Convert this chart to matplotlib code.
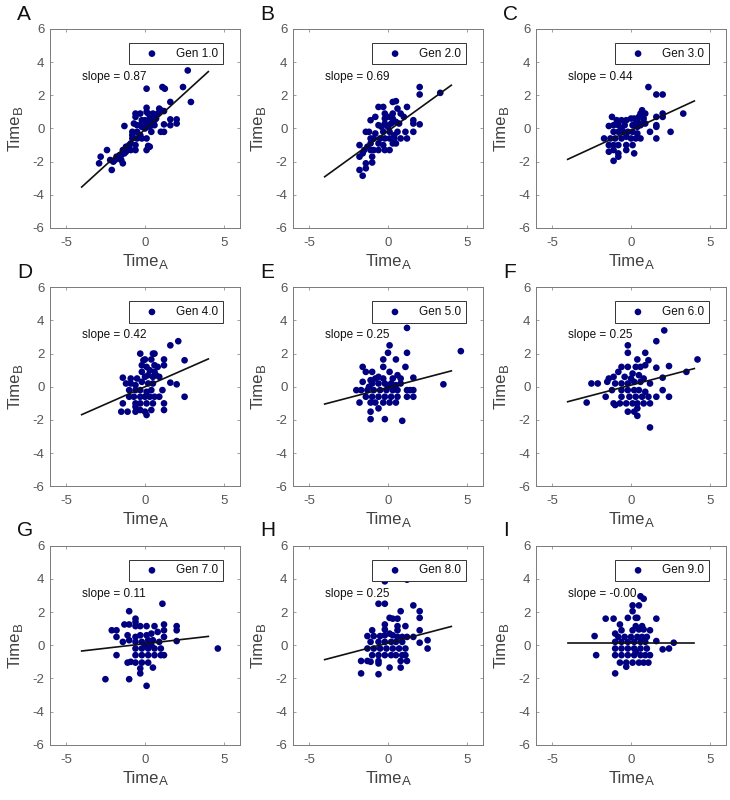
import matplotlib
matplotlib.use("Agg")
import matplotlib.pyplot as plt
import numpy as np

plt.rcParams['font.family'] = ['Liberation Sans', 'DejaVu Sans']

panel_letters = ["A", "B", "C", "D", "E", "F", "G", "H", "I"]
gen_labels = ["Gen 1.0", "Gen 2.0", "Gen 3.0", "Gen 4.0", "Gen 5.0",
              "Gen 6.0", "Gen 7.0", "Gen 8.0", "Gen 9.0"]
slope_labels = ["0.87", "0.69", "0.44", "0.42", "0.25", "0.25", "0.11", "0.25", "-0.00"]
slopes = [0.87, 0.69, 0.44, 0.42, 0.25, 0.25, 0.11, 0.25, 0.0]
intercepts = [-0.05, -0.15, -0.1, 0.0, -0.04, 0.1, 0.09, 0.13, 0.12]

pts_A = [(2.7, 3.5), (2.4, 2.5), (2.9, 1.6), (0.1, 2.4), (1.1, 2.5), (1.25, 2.4), (1.6, 1.6),
         (2.0, 0.55), (2.0, 0.3), (1.6, 0.55), (1.6, 0.2), (1.2, 0.25), (1.2, -0.2), (1.0, -0.2),
         (1.0, 1.1), (0.9, 1.2), (0.8, 0.9), (1.2, 1.05), (0.1, 1.25), (0.1, 1.0), (0.2, 0.9),
         (0.5, 0.9), (0.6, 0.8), (0.3, 0.6), (0.0, 0.5), (-0.2, 0.5), (-0.2, 0.3), (0.1, 0.3),
         (0.4, 0.4), (0.7, 0.6), (0.6, 0.2), (0.3, 0.1), (0.0, 0.0), (-0.2, 0.1), (0.4, -0.2),
         (-0.6, 0.9), (-0.6, 0.7), (-0.3, 0.9), (-0.7, 0.3), (-0.5, 0.2), (-0.8, -0.2), (-0.5, -0.2),
         (-0.3, -0.4), (-0.2, -0.6), (0.1, -0.6), (-0.8, -0.6), (-0.5, -0.6), (-0.9, -0.9),
         (-0.6, -1.0), (-0.6, -1.3), (-0.9, -1.3), (0.1, -1.3), (0.2, -1.05), (0.3, -1.1),
         (-1.3, 0.15), (-1.0, -1.0), (-1.2, -1.1), (-1.2, -1.4), (-1.4, -1.3), (-1.5, -1.6),
         (-1.5, -1.9), (-1.4, -2.1), (-1.6, -1.6), (-1.7, -1.8), (-1.9, -1.9), (-2.0, -2.0),
         (-2.1, -2.5), (-2.2, -1.9), (-2.4, -1.3), (-2.8, -1.7), (-2.9, -2.1), (-1.8, -1.7),
         (-1.3, -1.5), (-0.8, -0.4), (0.6, 0.5)]
pts_B = [(3.3, 2.15), (2.0, 2.5), (2.0, 2.05), (2.0, 0.25), (0.3, 1.6), (0.5, 1.65), (-0.6, 1.3),
         (-0.3, 1.3), (1.2, 1.3), (-1.1, 0.5), (0.6, 1.2), (0.8, 0.9), (1.6, 0.5), (1.6, 0.3),
         (1.6, -0.2), (1.2, -0.6), (1.1, -0.2), (0.8, -0.6), (1.0, 0.7), (0.1, 0.7), (0.3, 0.6),
         (0.5, 0.4), (0.2, 0.3), (0.0, 0.1), (-0.2, 0.6), (-0.2, 0.3), (-0.4, 0.1), (-0.6, 0.2),
         (-0.3, -0.2), (0.1, -0.2), (0.4, -0.4), (0.6, -0.2), (-0.8, -0.3), (-0.5, -0.6),
         (-0.2, -0.6), (0.1, -0.6), (0.3, -0.9), (0.5, -0.9), (-0.6, -0.9), (-0.3, -1.0),
         (0.1, -1.3), (-0.2, -1.3), (-0.6, -1.3), (-1.2, -0.2), (-1.4, -0.2), (-1.1, -0.6),
         (-0.9, -0.6), (-1.1, -0.9), (-1.3, -1.1), (-1.5, -1.3), (-1.1, -1.3), (-0.9, -1.3),
         (-1.6, -1.5), (-1.8, -1.0), (-1.8, -1.7), (-1.0, -1.7), (-1.0, -2.05), (-1.4, -2.1),
         (-1.4, -2.4), (-1.8, -2.5), (-1.6, -2.85), (0.4, -0.6), (0.7, 0.3), (0.3, 0.9),
         (-0.8, 0.7), (-0.2, 0.9)]
pts_C = [(1.1, 2.5), (1.6, 2.05), (2.0, 2.05), (3.3, 0.9), (2.0, 0.9), (2.0, 0.7), (2.5, -0.2),
         (1.6, 0.7), (1.6, 0.2), (1.6, 0.1), (1.6, -0.6), (1.2, -0.2), (0.9, 0.9), (0.7, 1.1),
         (0.6, 0.9), (0.5, 0.7), (0.4, 0.5), (0.8, 0.6), (0.2, 0.6), (0.0, 0.6), (-0.3, 0.5),
         (-0.6, 0.5), (-0.9, 0.5), (-1.2, 0.7), (-1.4, 0.15), (-1.1, 0.2), (-0.8, 0.2), (-0.4, 0.2),
         (0.1, 0.2), (0.4, 0.1), (0.7, 0.3), (-1.1, -0.2), (-0.8, -0.2), (-0.5, -0.2), (-0.2, -0.2),
         (0.1, -0.2), (0.4, -0.3), (-1.7, -0.6), (-1.3, -0.6), (-1.0, -0.6), (-0.6, -0.6),
         (-0.3, -0.5), (0.0, -0.6), (0.3, -0.6), (0.6, -0.6), (-1.4, -1.0), (-1.1, -1.0),
         (-0.8, -1.0), (-0.3, -1.0), (0.1, -1.0), (-1.4, -1.4), (-1.1, -1.3), (-0.3, -1.3),
         (-0.8, -1.5), (-0.8, -1.7), (0.2, -1.5), (-1.1, -1.95), (0.3, 0.3), (0.6, 0.2),
         (-0.6, 0.0), (0.9, 0.3)]
pts_D = [(2.1, 2.75), (1.6, 2.5), (2.5, 1.6), (2.5, -0.6), (2.0, 0.15), (1.6, 0.25), (1.2, 1.65),
         (1.2, 1.3), (1.1, -0.2), (1.2, -1.0), (1.2, -1.4), (0.9, -0.6), (0.6, 2.0), (0.5, 2.0),
         (-0.3, 2.0), (0.0, 1.65), (0.4, 1.65), (0.6, 1.3), (0.8, 1.2), (0.9, 0.6), (0.7, 0.7),
         (0.5, 0.6), (0.3, 1.0), (0.1, 1.2), (-0.2, 1.3), (-0.2, 0.9), (0.0, 0.6), (-0.5, 0.5),
         (-0.9, 0.5), (-1.4, 0.55), (-1.2, 0.2), (-0.9, 0.2), (-0.6, 0.1), (-0.2, 0.3), (0.2, 0.2),
         (0.5, 0.2), (-1.0, -0.2), (-0.6, -0.2), (-0.3, -0.2), (0.1, -0.3), (0.4, -0.2),
         (-1.0, -0.6), (-0.7, -0.6), (-0.3, -0.6), (0.0, -0.6), (0.3, -0.6), (0.6, -0.6),
         (-1.4, -1.0), (-0.6, -1.0), (-0.3, -1.0), (0.1, -1.0), (0.5, -1.0), (-1.5, -1.5),
         (-1.1, -1.5), (-0.6, -1.5), (-0.3, -1.4), (0.0, -1.5), (0.1, -1.7), (0.4, -1.4),
         (-0.6, -1.2), (0.2, 0.7), (-0.1, 1.6), (0.6, 0.9)]
pts_E = [(4.6, 2.15), (3.5, 0.15), (1.2, 3.55), (1.2, 2.05), (0.1, 2.5), (0.0, 2.05), (-0.3, 1.65),
         (0.5, 1.65), (1.1, 1.2), (-1.6, 1.2), (-1.4, 0.9), (-1.0, 0.9), (-0.3, 1.2), (0.1, 0.9),
         (0.6, 0.7), (0.8, 0.5), (1.6, 0.55), (-0.6, 0.6), (-0.8, 0.5), (-1.1, 0.4), (-1.6, 0.3),
         (-0.3, 0.5), (0.3, 0.5), (-1.0, 0.2), (-0.6, 0.2), (-0.2, 0.2), (0.2, 0.2), (0.5, 0.1),
         (-2.0, -0.2), (-1.7, -0.2), (-1.3, -0.2), (-0.9, -0.2), (-0.5, -0.2), (-0.1, -0.2),
         (0.3, -0.2), (0.6, -0.2), (1.2, -0.2), (1.6, -0.2), (-1.8, -0.95), (-1.4, -0.6),
         (-1.0, -0.6), (-0.6, -0.6), (-0.2, -0.6), (0.2, -0.6), (0.6, -0.6), (1.2, -0.6),
         (1.6, -0.6), (-1.1, -0.95), (-0.8, -0.95), (-0.3, -0.95), (0.1, -0.95), (0.5, -0.95),
         (-0.6, -1.3), (-1.1, -1.5), (-1.1, -1.95), (-0.2, -1.95), (0.9, -2.05), (1.4, -0.2),
         (0.0, 0.0), (-1.2, 0.0), (0.8, 0.2)]
pts_F = [(4.2, 1.65), (3.5, 0.9), (2.1, 3.4), (1.6, 2.75), (2.4, 1.25), (2.0, 0.55), (2.0, -0.2),
         (2.4, -0.6), (1.6, 1.15), (1.6, -0.6), (1.1, 1.6), (0.9, 2.05), (0.4, 1.65), (-0.2, 2.5),
         (-0.2, 2.05), (-0.6, 1.2), (-0.2, 1.2), (0.3, 1.2), (0.6, 1.2), (0.9, 1.3), (-1.1, 0.6),
         (-1.4, 0.5), (-0.8, 0.9), (-0.4, 0.6), (0.1, 0.8), (0.5, 0.7), (0.8, 0.5), (1.2, 0.2),
         (-1.5, 0.3), (-1.0, 0.2), (-0.6, 0.2), (-0.2, 0.2), (0.2, 0.3), (0.6, 0.3), (-2.5, 0.2),
         (-2.1, 0.2), (-1.2, -0.2), (-0.6, -0.2), (-0.2, -0.2), (0.2, -0.2), (0.5, -0.2),
         (0.9, -0.3), (-1.6, -0.6), (-0.6, -0.6), (-0.1, -0.6), (0.3, -0.6), (0.7, -0.6),
         (1.1, -0.6), (-1.1, -1.0), (-0.7, -1.0), (-0.3, -1.0), (0.1, -1.0), (0.4, -1.0),
         (0.8, -1.0), (1.2, -1.0), (-1.0, -1.1), (-0.2, -1.5), (0.2, -1.5), (0.4, -1.3),
         (0.4, -1.75), (1.2, -2.45), (-2.8, -0.95), (0.0, 0.5)]
pts_G = [(4.6, -0.2), (1.1, 2.5), (-1.0, 2.05), (-0.6, 1.6), (-0.6, 1.4), (2.0, 1.15), (2.0, 0.9),
         (2.0, 0.25), (1.2, 1.25), (1.2, 0.9), (1.2, 0.5), (-2.1, 0.9), (-1.8, 0.9), (-1.8, 0.5),
         (-1.3, 1.25), (-1.0, 1.25), (-0.6, 1.15), (-0.3, 1.15), (0.1, 1.15), (0.6, 1.15),
         (-1.4, 0.2), (-1.0, 0.3), (-1.1, 0.6), (-0.6, 0.5), (-0.3, 0.6), (0.1, 0.6), (0.4, 0.7),
         (0.8, 0.8), (-0.6, 0.2), (-0.2, 0.2), (0.2, 0.3), (0.5, 0.3), (0.9, 0.2), (-0.6, -0.2),
         (-0.2, -0.2), (0.2, -0.2), (0.6, -0.2), (1.0, -0.2), (-1.8, -0.6), (-0.6, -0.6),
         (-0.2, -0.6), (0.2, -0.6), (0.6, -0.6), (1.0, -0.6), (1.2, -0.6), (-1.1, -1.05),
         (-0.6, -1.05), (-0.2, -1.05), (0.2, -1.05), (-0.3, -1.4), (-0.3, -1.7), (0.5, -1.35),
         (-2.5, -2.05), (-1.0, -2.05), (0.1, -2.45), (0.0, 0.0), (0.4, 0.0), (-0.9, -1.0)]
pts_H = [(-0.2, 3.85), (1.2, 3.95), (-0.6, 2.5), (-0.2, 2.5), (1.6, 2.4), (0.8, 2.05), (2.0, 2.05),
         (2.0, 1.65), (0.1, 1.65), (0.3, 1.6), (0.6, 1.6), (-0.2, 1.25), (0.6, 1.15), (1.1, 1.15),
         (-0.2, 0.95), (-1.0, 0.9), (0.6, 0.9), (2.0, 0.9), (-1.3, 0.55), (-0.9, 0.55), (-0.5, 0.55),
         (-0.2, 0.6), (0.1, 0.7), (0.3, 0.6), (0.6, 0.5), (0.9, 0.5), (1.2, 0.5), (1.6, 0.5),
         (2.5, 0.3), (2.0, 0.15), (2.5, -0.2), (-1.1, 0.2), (-0.6, 0.2), (-0.2, 0.2), (0.2, 0.2),
         (0.5, 0.2), (0.9, 0.2), (-1.3, -0.2), (-0.9, -0.2), (-0.5, -0.2), (-0.1, -0.2), (0.3, -0.2),
         (0.7, -0.2), (1.1, -0.2), (-1.0, -0.6), (-0.6, -0.6), (-0.2, -0.6), (0.2, -0.6), (0.5, -0.6),
         (0.9, -0.6), (1.1, -0.6), (-1.7, -0.95), (-1.3, -0.95), (-1.1, -1.0), (-0.6, -0.95),
         (-0.6, -1.1), (0.8, -0.95), (1.2, -0.95), (0.1, -1.35), (0.8, -1.35), (-1.7, -1.7),
         (-0.6, -1.75)]
pts_I = [(0.6, 2.95), (0.8, 2.8), (0.1, 2.4), (0.5, 2.4), (0.1, 2.05), (-0.2, 1.65), (0.3, 1.65),
         (0.4, 1.65), (-1.6, 1.6), (-1.1, 1.6), (1.6, 1.6), (-0.7, 1.25), (0.3, 1.15), (0.7, 1.15),
         (0.1, 0.9), (0.5, 0.95), (0.8, 0.95), (-0.6, 0.9), (1.2, 0.9), (-2.3, 0.55), (-1.0, 0.7),
         (-0.8, 0.5), (-0.4, 0.5), (0.0, 0.5), (0.4, 0.5), (0.7, 0.5), (1.0, 0.5), (-1.0, 0.2),
         (-0.6, 0.2), (-0.2, 0.2), (0.2, 0.2), (0.6, 0.2), (0.9, 0.2), (1.6, 0.25), (2.7, 0.15),
         (-1.0, -0.2), (-0.6, -0.2), (-0.2, -0.2), (0.2, -0.2), (0.6, -0.2), (1.0, -0.2),
         (2.0, -0.25), (2.4, -0.2), (-2.2, -0.6), (-1.0, -0.6), (-0.6, -0.6), (-0.2, -0.6),
         (0.2, -0.6), (0.6, -0.6), (0.9, -0.6), (1.2, -0.6), (-0.7, -1.05), (-0.3, -1.05),
         (0.1, -1.05), (0.5, -1.05), (0.8, -1.05), (1.1, -1.05), (-0.3, -1.3), (-1.0, -1.7),
         (0.3, -0.4)]

all_pts = [pts_A, pts_B, pts_C, pts_D, pts_E, pts_F, pts_G, pts_H, pts_I]

W, H = 730, 800
fig = plt.figure(figsize=(7.3, 8.0), dpi=100)

col_left_px = [50, 293, 536]
row_top_px = [29, 287.3, 545.7]
ax_w_px, ax_h_px = 190, 199

lab_col = '#404040'
tick_col = '#555555'
spine_col = '#7a7a7a'
dot_col = '#000080'

for i in range(9):
    r, c = divmod(i, 3)
    lpx = col_left_px[c]
    tpx = row_top_px[r]
    ax = fig.add_axes([lpx / W, 1 - (tpx + ax_h_px) / H, ax_w_px / W, ax_h_px / H])
    p = np.array(all_pts[i])
    ax.scatter(p[:, 0], p[:, 1], s=23, color=dot_col, edgecolors='none', zorder=2,
               label=gen_labels[i])
    xl = np.array([-4.0, 4.0])
    ax.plot(xl, slopes[i] * xl + intercepts[i], color='#111111', lw=1.2, zorder=3)
    ax.text(-3.95, 3.1, "slope = " + slope_labels[i], fontsize=8.5, color='#111111',
            ha='left', va='center', zorder=4)
    ax.set_xlim(-6, 6)
    ax.set_ylim(-6, 6)
    ax.set_xticks([-5, 0, 5])
    ax.set_yticks([-6, -4, -2, 0, 2, 4, 6])
    ax.set_yticklabels(['-6', '-4', '-2', '0', '2', '4', '6'])
    ax.set_xticklabels(['-5', '0', '5'])
    ax.tick_params(direction='in', length=2, width=0.5, colors=spine_col,
                   labelcolor=tick_col, labelsize=9.5, top=True, right=True, pad=4)
    ax.tick_params(axis='x', pad=6.5)
    for s in ax.spines.values():
        s.set_color(spine_col)
        s.set_linewidth(0.7)
    # axis labels with near full-size subscripts
    ax.set_xlabel("Time", fontsize=12, color=lab_col, labelpad=3.5)
    ax.xaxis.label.set_x(0.5 - 4.5 / ax_w_px)
    ax.set_ylabel("Time", fontsize=12, color=lab_col, labelpad=7.5)
    ax.yaxis.label.set_y(0.5 - 4.5 / ax_h_px)
    ax.annotate("A", xy=(1, 0), xycoords=ax.xaxis.label, xytext=(0.5, -2.0),
                textcoords='offset points', ha='left', va='bottom',
                fontsize=9.5, color=lab_col)
    ax.annotate("B", xy=(1, 1), xycoords=ax.yaxis.label, xytext=(2.0, 0.5),
                textcoords='offset points', ha='right', va='bottom', rotation=90,
                fontsize=9.5, color=lab_col)
    leg = ax.legend(loc='upper right', bbox_to_anchor=(173 / 190, 1 - 14 / 199),
                    borderaxespad=0, fontsize=8.5, frameon=True, fancybox=False,
                    edgecolor='#333333', framealpha=1, handlelength=3.1,
                    handletextpad=0.5, borderpad=0.4, markerscale=1.0)
    leg.get_frame().set_linewidth(0.7)
    leg.set_zorder(5)
    for t in leg.get_texts():
        t.set_color('#111111')
    fig.text((lpx - 33) / W, 1 - (tpx - 15) / H, panel_letters[i], fontsize=15,
             color='#111111', ha='left', va='center')

fig.savefig("out.png", dpi=100)
